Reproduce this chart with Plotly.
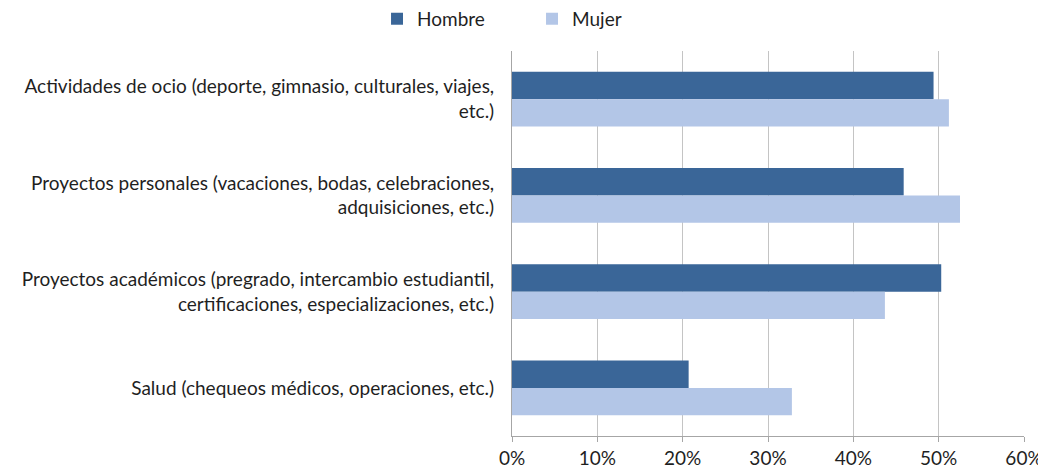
import plotly.graph_objects as go

categories = [
    "Actividades de ocio (deporte, gimnasio, culturales, viajes,<br>etc.)",
    "Proyectos personales (vacaciones, bodas, celebraciones,<br>adquisiciones, etc.)",
    "Proyectos académicos (pregrado, intercambio estudiantil,<br>certificaciones, especializaciones, etc.)",
    "Salud (chequeos médicos, operaciones, etc.)",
]
hombre = [0.494, 0.459, 0.503, 0.207]
mujer = [0.512, 0.525, 0.437, 0.328]
tick_vals = [0, 0.1, 0.2, 0.3, 0.4, 0.5, 0.6]
tick_text = ["0%", "10%", "20%", "30%", "40%", "50%", "60%"]

FONT = "Lato, 'Open Sans', sans-serif"
TXT = "#1f1f1f"

fig = go.Figure()
fig.add_trace(go.Bar(y=categories, x=hombre, name="Hombre", orientation="h",
                     marker=dict(color="#3A6698", line=dict(width=0))))
fig.add_trace(go.Bar(y=categories, x=mujer, name="Mujer", orientation="h",
                     marker=dict(color="#B3C6E7", line=dict(width=0))))

fig.update_layout(
    width=1046, height=469,
    margin=dict(l=504, r=30, t=43, b=41, autoexpand=False),
    paper_bgcolor="white", plot_bgcolor="white",
    barmode="group", bargap=0.43, bargroupgap=0,
    font=dict(family=FONT, size=19, color=TXT),
    legend=dict(orientation="h", xref="container", yref="paper",
                x=0.3528, xanchor="left", y=1.0834, yanchor="middle",
                font=dict(size=19, color=TXT), entrywidth=110,
                itemwidth=30),
    xaxis=dict(range=[0, 0.6], tickvals=tick_vals, ticktext=tick_text,
               showgrid=True, gridcolor="#C4C4C4", gridwidth=1,
               showline=True, linecolor="#A6A6A6", linewidth=1,
               ticks="outside", ticklen=5, tickcolor="#A6A6A6",
               zeroline=False, automargin=False,
               tickfont=dict(size=19, color=TXT)),
    yaxis=dict(autorange="reversed", showline=True, linecolor="#A6A6A6",
               linewidth=1, ticks="", showgrid=False, ticklabelstandoff=13,
               automargin=False, tickfont=dict(size=19, color=TXT)),
)

fig.write_html("out.html")
